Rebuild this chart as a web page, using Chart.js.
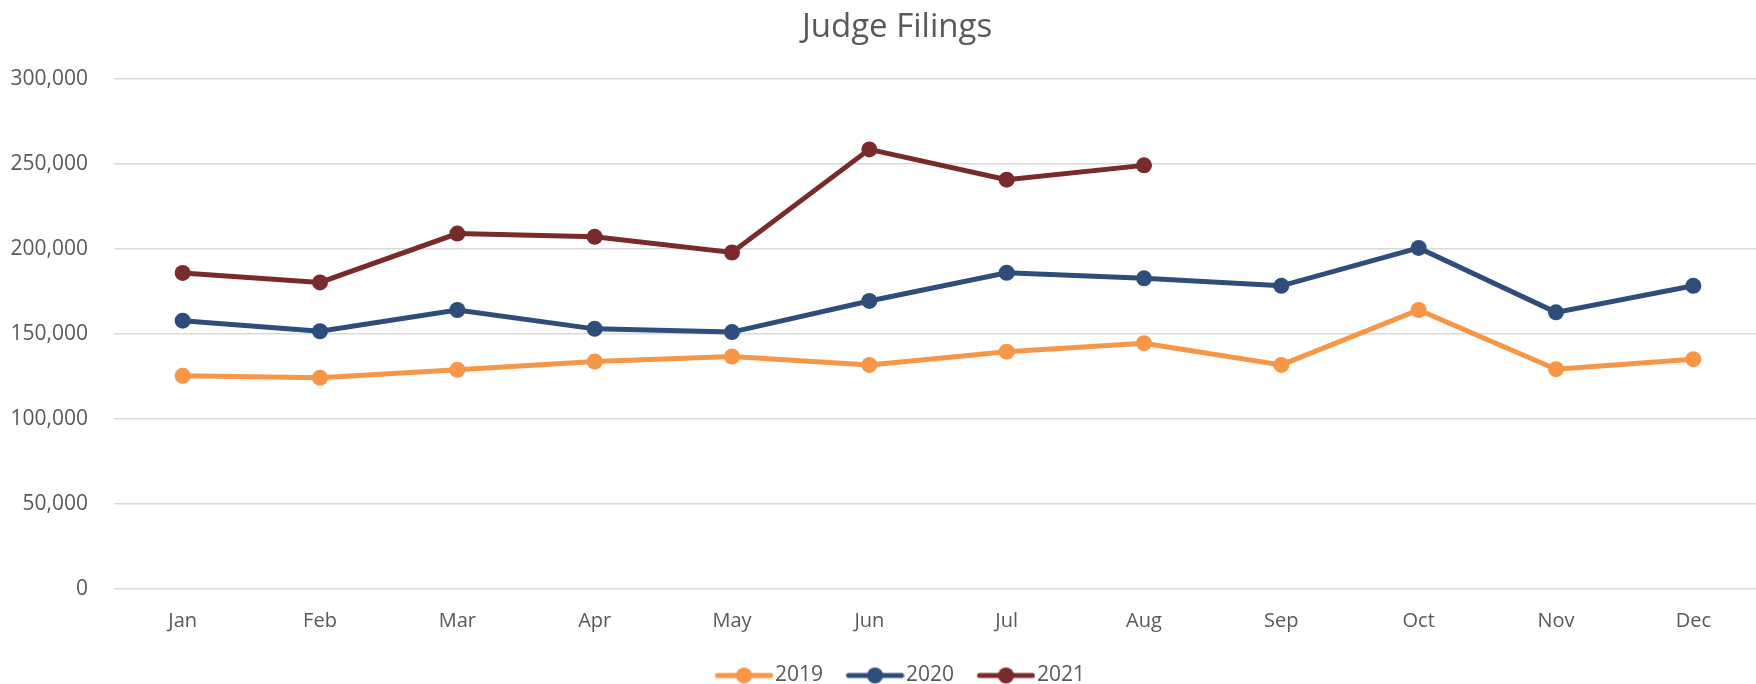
<!DOCTYPE html>
<html lang="en">
<head>
  <meta charset="UTF-8">
  <title>Judge Filings</title>
  <script src="https://cdn.jsdelivr.net/npm/chart.js"></script>
  <style>
    html, body {
      margin: 0;
      padding: 0;
      background: #fff;
      overflow: hidden;
    }
    #chartBox {
      position: relative;
      width: 1794px;
      height: 684px;
    }
  </style>
</head>
<body>
  <div id="chartBox">
    <canvas id="filingsChart"></canvas>
  </div>
  <script>
    const months = ['Jan', 'Feb', 'Mar', 'Apr', 'May', 'Jun', 'Jul', 'Aug', 'Sep', 'Oct', 'Nov', 'Dec'];
    const filings2019 = [125300, 124100, 128800, 133700, 136600, 131700, 139500, 144500, 131700, 164000, 129200, 135100];
    const filings2020 = [157700, 151500, 164000, 152900, 151000, 169300, 185900, 182600, 178200, 200500, 162600, 178200];
    const filings2021 = [185800, 180200, 208900, 207000, 197800, 258400, 240600, 249000, null, null, null, null];
    const yearLabels = ['2019', '2020', '2021'];
    const yearColors = ['#F79646', '#2E4D7B', '#782B2A'];

    // legend picture: transparent gap on the left, then the line with a dot
    function legendIcon(color) {
      const c = document.createElement('canvas');
      c.width = 79;
      c.height = 18;
      const g = c.getContext('2d');
      g.strokeStyle = color;
      g.lineWidth = 5;
      g.lineCap = 'round';
      g.beginPath();
      g.moveTo(23, 9);
      g.lineTo(76, 9);
      g.stroke();
      g.fillStyle = color;
      g.beginPath();
      g.arc(49.5, 9, 8, 0, Math.PI * 2);
      g.fill();
      return c;
    }
    const icons = yearColors.map(legendIcon);

    const series = [filings2019, filings2020, filings2021];
    const datasets = series.map((values, i) => ({
      label: yearLabels[i],
      data: values,
      borderColor: yearColors[i],
      backgroundColor: yearColors[i],
      borderWidth: 5,
      pointRadius: 8,
      pointHoverRadius: 8,
      pointBorderWidth: 0,
      tension: 0
    }));

    const ctx = document.getElementById('filingsChart').getContext('2d');
    new Chart(ctx, {
      type: 'line',
      data: { labels: months, datasets: datasets },
      options: {
        responsive: true,
        maintainAspectRatio: false,
        animation: false,
        layout: {
          padding: { left: 0, right: 0, top: 8, bottom: -12 }
        },
        scales: {
          x: {
            offset: true,
            afterFit: s => { s.height += 14; },
            grid: { display: false },
            border: { display: false },
            ticks: {
              color: '#595959',
              padding: 12,
              font: { family: 'Open Sans', size: 20 }
            }
          },
          y: {
            min: 0,
            max: 300000,
            afterFit: s => { s.width = 114; },
            grid: {
              color: '#D9D9D9',
              lineWidth: 1.5,
              drawTicks: false
            },
            border: { display: false },
            ticks: {
              stepSize: 50000,
              color: '#595959',
              padding: 26,
              font: { family: 'Open Sans', size: 21 },
              callback: v => v.toLocaleString('en-US')
            }
          },
          // empty right strip so the plot runs past the window edge
          yRight: {
            position: 'right',
            display: true,
            afterFit: s => { s.width = 32; },
            grid: { display: false },
            border: { display: false },
            ticks: { display: false }
          }
        },
        plugins: {
          title: {
            display: true,
            text: 'Judge Filings',
            color: '#595959',
            font: { family: 'Open Sans', size: 33, weight: 'normal' },
            padding: { top: 0, bottom: 31 }
          },
          legend: {
            position: 'bottom',
            labels: {
              usePointStyle: true,
              pointStyleWidth: 61,
              padding: 6,
              color: '#595959',
              font: { family: 'Open Sans', size: 21 },
              generateLabels: chart => {
                const base = Chart.defaults.plugins.legend.labels.generateLabels(chart);
                return base.map((item, i) => Object.assign(item, { text: item.text + ' ', pointStyle: icons[i] }));
              }
            }
          },
          tooltip: { enabled: false }
        }
      }
    });
  </script>
</body>
</html>
